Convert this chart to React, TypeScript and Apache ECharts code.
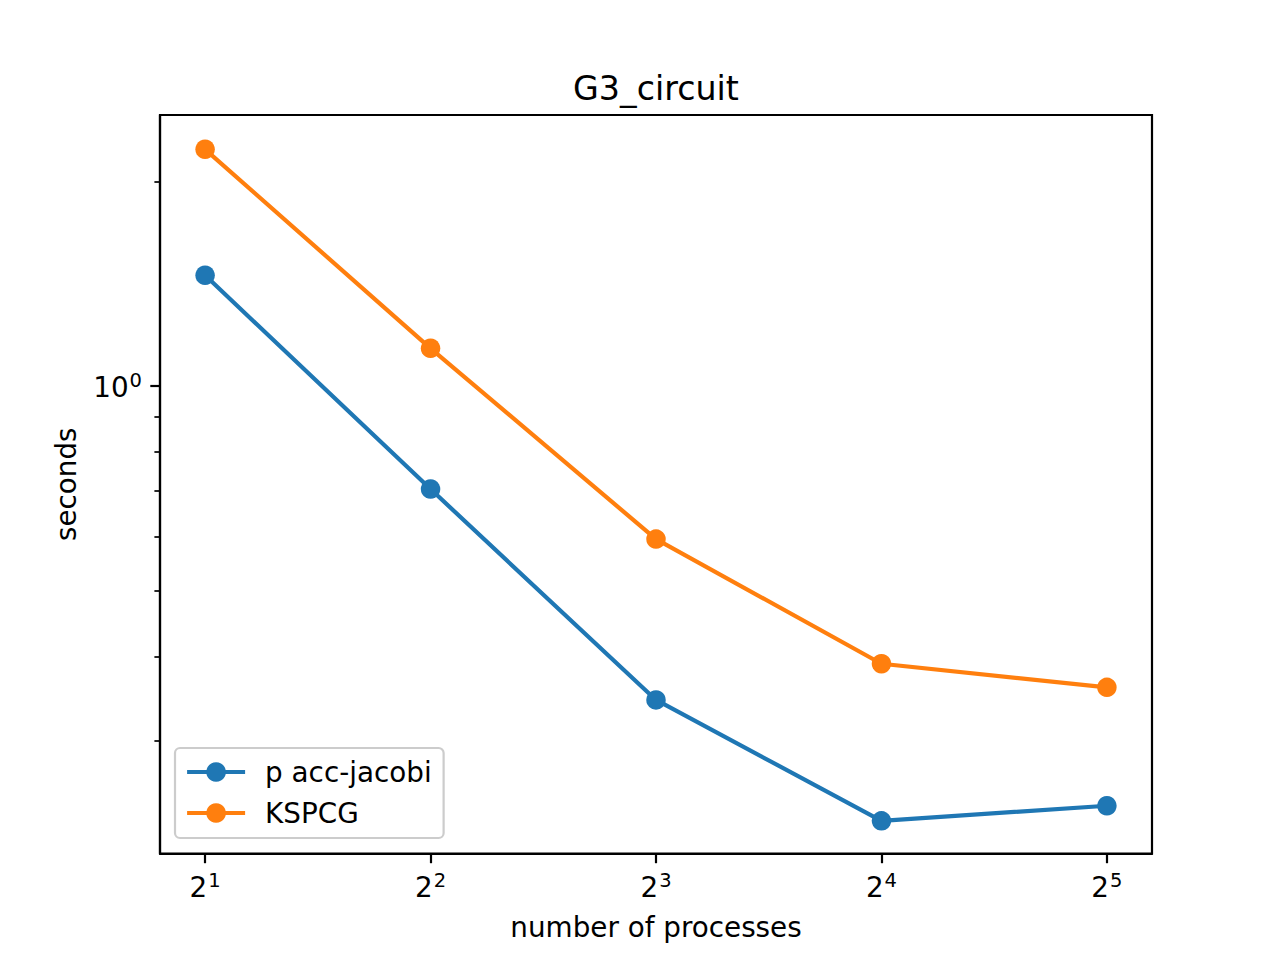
import React, { useEffect, useRef } from "react";
import * as echarts from "echarts";

const processes = [2, 4, 8, 16, 32];
const accJacobi = [1.455, 0.705, 0.345, 0.229, 0.241];
const kspcg = [2.23, 1.136, 0.595, 0.39, 0.36];
const seriesNames = ["p acc-jacobi", "KSPCG"];
const xTickExps = [1, 2, 3, 4, 5];
const yMajorTicks = [1];
const yMinorTicks = [0.3, 0.4, 0.5, 0.6, 0.7, 0.8, 0.9, 2];
const yRange = [0.205, 2.505];
const xRangeExp = [0.8, 5.2];

const FONT = "DejaVu Sans";

export default function App() {
  const ref = useRef<HTMLDivElement>(null);
  useEffect(() => {
    if (!ref.current) return;
    const chart = echarts.init(ref.current, undefined, { renderer: "svg" });
    const toPt = (vals: number[]) =>
      processes.map((p, i) => [Math.log2(p), Math.log10(vals[i])]);
    const yMin = Math.log10(yRange[0]);
    const yMax = Math.log10(yRange[1]);
    const rich = {
      b: { fontSize: 27.8, fontFamily: FONT, color: "#000", verticalAlign: "bottom" },
      s: {
        fontSize: 19.5,
        fontFamily: FONT,
        color: "#000",
        verticalAlign: "bottom",
        padding: [0, 0, 11, 1],
      },
    };
    chart.setOption({
      animation: false,
      textStyle: { fontFamily: FONT },
      graphic: [
        {
          type: "text",
          x: 656,
          y: 88,
          style: {
            text: "G3_circuit",
            fontSize: 33.3,
            fontFamily: FONT,
            fill: "#000",
            align: "center",
            verticalAlign: "middle",
          },
        },
      ],
      grid: {
        left: 160,
        top: 115,
        width: 992,
        height: 738.5,
        show: true,
        borderColor: "#000",
        borderWidth: 2.2,
        containLabel: false,
      },
      legend: {
        orient: "vertical",
        left: 175,
        top: 748,
        data: seriesNames,
        itemWidth: 58,
        itemHeight: 24.5,
        itemGap: 11,
        padding: [9, 12, 10, 10],
        borderColor: "#cccccc",
        borderWidth: 2.2,
        borderRadius: 5,
        backgroundColor: "rgba(255,255,255,0.8)",
        lineStyle: { width: 4.2 },
        textStyle: {
          fontSize: 27.8,
          fontFamily: FONT,
          color: "#000",
          lineHeight: 30,
          padding: [0, 0, 0, 15],
        },
      },
      xAxis: {
        type: "value",
        min: xRangeExp[0],
        max: xRangeExp[1],
        name: "number of processes",
        nameLocation: "middle",
        nameGap: 60,
        nameTextStyle: { fontSize: 27.8, fontFamily: FONT, color: "#000" },
        axisLine: { show: true, onZero: false, lineStyle: { color: "#000", width: 2.2 } },
        splitLine: { show: false },
        axisTick: {
          show: true,
          length: 9.7,
          customValues: xTickExps,
          lineStyle: { color: "#000", width: 2.2 },
        },
        axisLabel: {
          show: true,
          margin: 17,
          customValues: xTickExps,
          formatter: (v: number) => `{b|2}{s|${Math.round(v)}}`,
          rich,
        },
      },
      yAxis: [
        {
          type: "value",
          min: yMin,
          max: yMax,
          name: "seconds",
          nameLocation: "middle",
          nameGap: 80,
          nameTextStyle: { fontSize: 27.8, fontFamily: FONT, color: "#000" },
          axisLine: { show: true, onZero: false, lineStyle: { color: "#000", width: 2.2 } },
          splitLine: { show: false },
          axisTick: {
            show: true,
            length: 9.7,
            customValues: yMajorTicks.map((v) => Math.log10(v)),
            lineStyle: { color: "#000", width: 2.2 },
          },
          axisLabel: {
            show: true,
            margin: 18,
            customValues: yMajorTicks.map((v) => Math.log10(v)),
            formatter: (v: number) => `{b|10}{s|${Math.round(v)}}`,
            rich,
          },
        },
        {
          type: "value",
          min: yMin,
          max: yMax,
          position: "left",
          axisLine: { show: false, onZero: false },
          splitLine: { show: false },
          axisTick: {
            show: true,
            length: 5.6,
            customValues: yMinorTicks.map((v) => Math.log10(v)),
            lineStyle: { color: "#000", width: 1.7 },
          },
          axisLabel: { show: false },
        },
      ],
      series: [
        {
          name: seriesNames[0],
          type: "line",
          data: toPt(accJacobi),
          symbol: "circle",
          symbolSize: 19.5,
          itemStyle: { color: "#1f77b4" },
          lineStyle: { color: "#1f77b4", width: 4.2 },
        },
        {
          name: seriesNames[1],
          type: "line",
          data: toPt(kspcg),
          symbol: "circle",
          symbolSize: 19.5,
          itemStyle: { color: "#ff7f0e" },
          lineStyle: { color: "#ff7f0e", width: 4.2 },
        },
      ],
    });
    return () => chart.dispose();
  }, []);
  return (
    <div
      ref={ref}
      style={{ position: "fixed", left: 0, top: 0, width: 1280, height: 960, background: "#fff" }}
    />
  );
}
